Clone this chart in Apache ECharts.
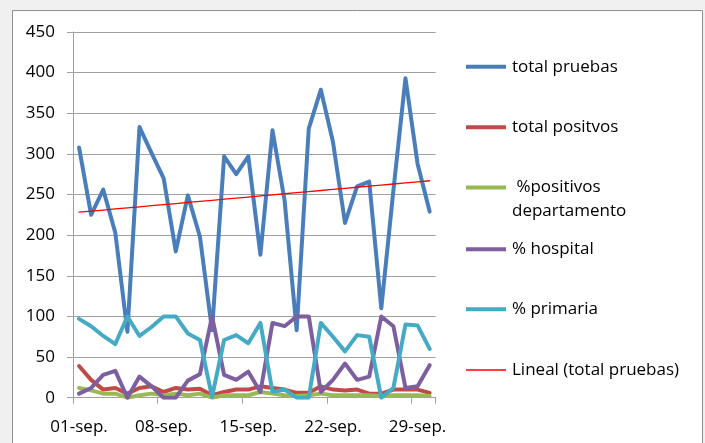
<!DOCTYPE html>
<html>
<head>
<meta charset="utf-8">
<script src="https://cdn.jsdelivr.net/npm/echarts@6/dist/echarts.min.js"></script>
<style>
html,body{margin:0;padding:0;background:#f0f0f0;}
#c{width:705px;height:443px;}
</style>
</head>
<body>
<div id="c"></div>
<script>
const categories = ['01-sep.','02-sep.','03-sep.','04-sep.','05-sep.','06-sep.','07-sep.','08-sep.','09-sep.','10-sep.',
  '11-sep.','12-sep.','13-sep.','14-sep.','15-sep.','16-sep.','17-sep.','18-sep.','19-sep.','20-sep.',
  '21-sep.','22-sep.','23-sep.','24-sep.','25-sep.','26-sep.','27-sep.','28-sep.','29-sep.','30-sep.'];
const totalPruebas = [308,225,256,203,81,333,301,270,180,249,198,83,297,275,297,176,329,243,83,331,379,315,215,260,266,110,255,393,288,229];
const totalPositivos = [39,22,10,12,5,12,14,7,12,10,11,3,7,10,10,14,12,10,6,6,14,10,9,10,5,5,10,10,10,6];
const positivosDepartamento = [12,9,5,5,0,3,5,3,5,3,5,0,3,3,3,7,5,3,2,3,5,3,3,3,3,2,3,3,3,2];
const hospital = [5,12,28,33,0,26,14,0,0,21,29,100,28,22,32,7,92,88,100,100,7,22,42,22,26,100,88,12,14,40];
const primaria = [97,88,76,66,100,76,87,100,100,79,71,1,71,77,67,92,7,10,0,0,92,75,57,77,75,0,12,90,89,60];
const yTicks = [0,50,100,150,200,250,300,350,400,450];

// Linear trend (least squares) of total pruebas, as Excel's "Lineal" trendline
const n = totalPruebas.length;
const mx = (n - 1) / 2;
const my = totalPruebas.reduce((a, b) => a + b, 0) / n;
let sxy = 0, sxx = 0;
totalPruebas.forEach((v, i) => { sxy += (i - mx) * (v - my); sxx += (i - mx) * (i - mx); });
const slope = sxy / sxx;
const trend = categories.map((c, i) => +(my + slope * (i - mx)).toFixed(2));

const names = ['total pruebas','total positvos','%positivos departamento','% hospital','% primaria','Lineal (total pruebas)'];
const colors = ['#4a7ebb','#be4b48','#98b954','#7d5fa0','#46aac5','#ff0000'];

const FONT = 'Open Sans';
const grey = '#a0a0a0';

function mkLine(name, data, color, width, z) {
  return {
    name: name, type: 'line', data: data, symbol: 'none', z: z,
    lineStyle: { color: color, width: width, join: 'round', cap: 'round' },
    itemStyle: { color: color },
    emphasis: { disabled: true }, animation: false
  };
}

const legendCenters = [66.7, 127.3, 187.5, 249.3, 309.3, 370];
const legends = names.map((nm, i) => ({
  data: [nm], orient: 'vertical', left: 466, top: legendCenters[i] - 10, padding: 0,
  icon: 'rect', itemWidth: 40, itemHeight: i === 5 ? 1.5 : 4, itemGap: 0,
  selectedMode: false,
  textStyle: { fontFamily: FONT, fontSize: 17, color: '#000', lineHeight: 20, padding: [0,0,0,1] },
  formatter: i === 2 ? ' %positivos' : '{name}'
}));

const chart = echarts.init(document.getElementById('c'), null, { renderer: 'canvas' });
chart.setOption({
  backgroundColor: '#f0f0f0',
  animation: false,
  graphic: [
    { type: 'rect', z: -10, silent: true, shape: { x: 12.5, y: 10.5, width: 690, height: 440 },
      style: { fill: '#ffffff', stroke: '#8f8f8f', lineWidth: 1 } },
    { type: 'text', left: 512, top: 201, silent: true,
      style: { text: 'departamento', fontFamily: FONT, fontSize: 17, fill: '#000', lineHeight: 20 } }
  ],
  legend: legends,
  grid: { left: 73, right: 269.3, top: 32, bottom: 45.3, outerBoundsMode: 'none', containLabel: false },
  xAxis: {
    type: 'category', data: categories, boundaryGap: true,
    axisLine: { lineStyle: { color: grey, width: 1 } },
    axisTick: { show: true, interval: 6, length: 6, alignWithLabel: false, lineStyle: { color: grey } },
    axisLabel: { interval: 6, margin: 21, fontFamily: FONT, fontSize: 17, color: '#000' },
    splitLine: { show: false }
  },
  yAxis: {
    type: 'value', min: yTicks[0], max: yTicks[yTicks.length - 1], interval: yTicks[1] - yTicks[0],
    axisLine: { show: true, lineStyle: { color: grey, width: 1 } },
    axisTick: { show: true, length: 6, lineStyle: { color: grey } },
    axisLabel: { margin: 18, fontFamily: FONT, fontSize: 17, color: '#000' },
    splitLine: { show: true, lineStyle: { color: grey, width: 1 } }
  },
  series: [
    mkLine(names[0], totalPruebas, colors[0], 4, 2),
    mkLine(names[1], totalPositivos, colors[1], 4, 3),
    mkLine(names[2], positivosDepartamento, colors[2], 4, 4),
    mkLine(names[3], hospital, colors[3], 4, 5),
    mkLine(names[4], primaria, colors[4], 4, 6),
    mkLine(names[5], trend, colors[5], 1.3, 7)
  ]
});
</script>
</body>
</html>
